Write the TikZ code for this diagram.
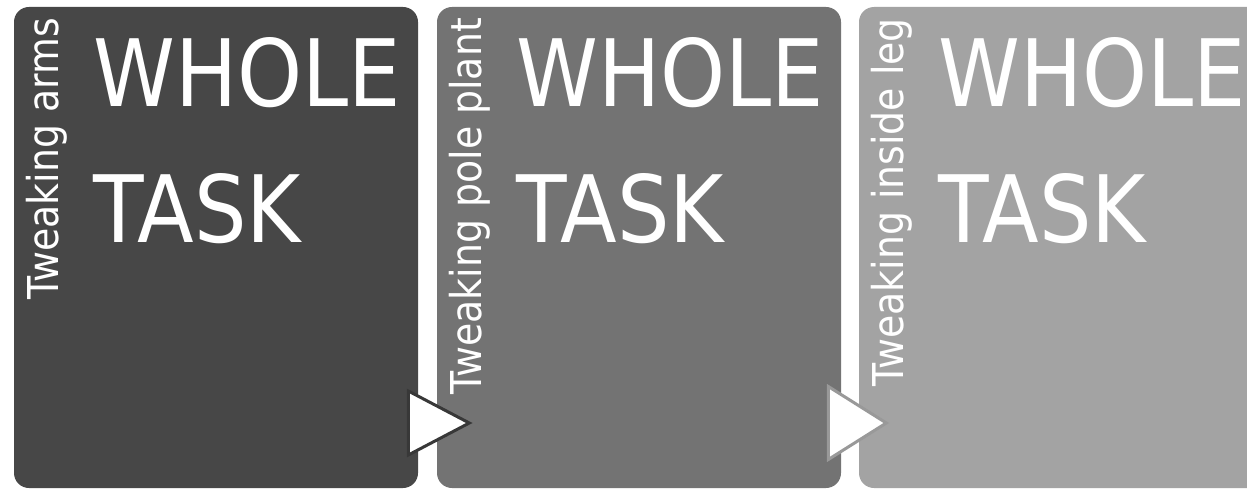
\documentclass[tikz,border=0pt]{standalone}
\usepackage{fontspec}
\setmainfont{DejaVu Sans}[FakeStretch=0.89]
\usepackage{tikz}
\usetikzlibrary{shapes.geometric, calc}
\usepackage{xcolor}
\definecolor{panela}{HTML}{474747}
\definecolor{panelb}{HTML}{737373}
\definecolor{panelc}{HTML}{A3A3A3}

\begin{document}
\begin{tikzpicture}[x=1pt, y=-1pt,
    panel/.style={rectangle, rounded corners=15pt, minimum width=404pt, minimum height=481pt, inner sep=0pt},
    side/.style={rotate=90, anchor=base east, inner sep=0pt, text=white, font=\fontsize{42.5}{42.5}\selectfont},
    big/.style={anchor=base west, inner sep=0pt, text=white, font=\fontsize{93}{93}\selectfont},
    tri/.style={isosceles triangle, isosceles triangle stretches, anchor=lower side, fill=white, inner sep=0pt, line width=3pt}]
    \useasboundingbox (0,0) rectangle (1247,489);
    \clip (0,0) rectangle (1247,489);
    \foreach \i/\xl/\col/\lab in {1/14/panela/Tweaking arms, 2/437/panelb/Tweaking pole plant, 3/859/panelc/Tweaking inside leg} {
        \node[panel, fill=\col] (box\i) at (\xl+202, 247.5) {};
        \node[side] (lab\i) at (\xl+44, 18) {\lab};
        \node[big] (whole\i) at (\xl+79, 107) {WHOLE};
        \node[big] (task\i) at (\xl+79, 242) {TASK};
    }
    \node[tri, draw=black!78, minimum width=64pt, minimum height=61pt] (arr1) at ($(box2.west)+(-30,175.5)$) {};
    \node[tri, draw=black!40, minimum width=73pt, minimum height=58pt] (arr2) at ($(box3.west)+(-32,175.5)$) {};
\end{tikzpicture}
\end{document}
